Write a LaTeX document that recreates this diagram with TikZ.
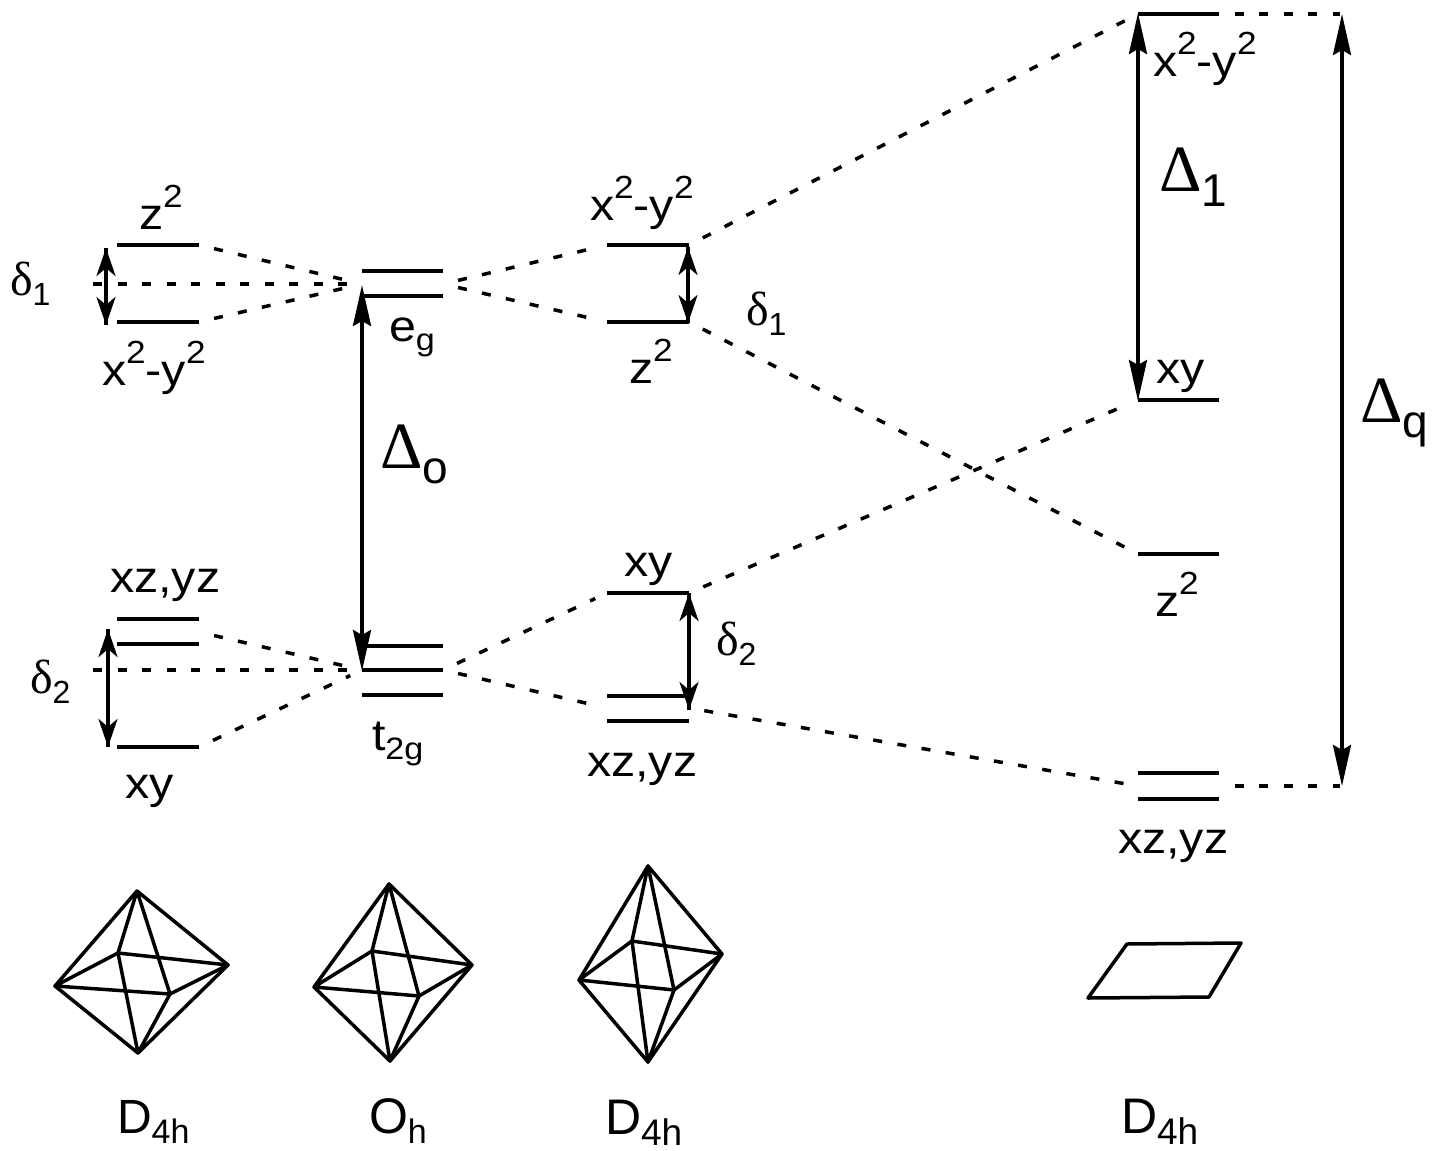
\documentclass[tikz,border=0pt]{standalone}
\usepackage{fontspec}
\setmainfont{Liberation Sans}
\newfontfamily\serifgreek{Liberation Serif}
\usetikzlibrary{arrows.meta}
\newcommand{\labsize}{\fontsize{44}{44}\selectfont}
\newcommand{\up}[1]{\raisebox{22pt}{\fontsize{32}{32}\selectfont #1}}
\newcommand{\dn}[1]{\raisebox{-9pt}{\fontsize{31}{31}\selectfont #1}}
\newcommand{\dnb}[1]{\raisebox{-10pt}[24pt][0pt]{\fontsize{34}{34}\selectfont #1}}
\newcommand{\dnc}[1]{\raisebox{-11pt}[24pt][0pt]{\fontsize{37}{37}\selectfont #1}}
\newcommand{\dlt}[1]{{\serifgreek\fontsize{48}{48}\selectfont δ}\raisebox{-10pt}{\fontsize{32}{32}\selectfont #1}}
\newcommand{\Dlt}[1]{{\serifgreek\fontsize{66}{66}\selectfont Δ}\raisebox{-15pt}{\fontsize{46}{46}\selectfont #1}}
\newcommand{\level}[4]{%
  \coordinate (#1L) at (#2,#4);
  \coordinate (#1R) at (#3,#4);
  \draw[levelline] (#1L) -- (#1R);}
\newcommand{\octa}[7]{%
  \coordinate (#1t) at #2; \coordinate (#1r) at #3; \coordinate (#1b) at #4;
  \coordinate (#1l) at #5; \coordinate (#1k) at #6; \coordinate (#1f) at #7;
  \draw[polyline] (#1l) -- (#1t) -- (#1r) -- (#1b) -- cycle;
  \draw[polyline] (#1l) -- (#1k) -- (#1r) -- (#1f) -- cycle;
  \draw[polyline] (#1t) -- (#1k) -- (#1b) -- (#1f) -- cycle;}
\tikzset{
  x=1pt,y=-1pt,
  levelline/.style={line width=3.5pt},
  polyline/.style={line width=3.5pt,line join=round},
  dashline/.style={line width=3.5pt,dash pattern=on 9pt off 15.5pt},
  gapline/.style={dashline,dash phase=9pt,shorten >=13pt},
  bigarrow/.style={line width=3.5pt,{Stealth[length=41pt,width=18pt,inset=5pt]}-{Stealth[length=41pt,width=18pt,inset=5pt]}},
  smallarrow/.style={line width=3.5pt,{Stealth[open,length=28pt,width=19pt,inset=8pt,line width=3.5pt]}-{Stealth[open,length=28pt,width=19pt,inset=8pt,line width=3.5pt]}},
  shaft/.style={line width=3.5pt},
  lab/.style={anchor=base west,inner sep=0pt,outer sep=0pt,font=\labsize,transform shape,xscale=1.1},
  plain/.style={anchor=base west,inner sep=0pt,outer sep=0pt,font=\labsize},
}
\begin{document}
\begin{tikzpicture}
\useasboundingbox (0,0) rectangle (1441,1151);
% levels
\level{az}{117}{199}{245}
\level{ax}{117}{199}{322}
\level{ap}{117}{199}{619}
\level{aq}{117}{199}{644}
\level{ay}{117}{199}{747}
\level{bu}{362}{443}{271}
\level{bv}{362}{443}{296}
\level{bp}{362}{443}{646}
\level{bq}{362}{443}{670}
\level{br}{362}{443}{695}
\level{cx}{607}{689}{245}
\level{cz}{607}{689}{322}
\level{cy}{607}{689}{593}
\level{cp}{607}{689}{696}
\level{cq}{607}{689}{721}
\level{dx}{1138}{1219}{14}
\level{dy}{1138}{1219}{400}
\level{dz}{1138}{1219}{554}
\level{dp}{1138}{1219}{773}
\level{dq}{1138}{1219}{799}
% helper coordinates
\coordinate (eL) at (362,284);
\coordinate (eR) at (443,284);
\coordinate (tL) at (362,670);
\coordinate (tR) at (443,670);
\coordinate (aeS) at (93,284);
\coordinate (aeE) at (347,284);
\coordinate (atS) at (93,670);
\coordinate (atE) at (347,670);
\coordinate (amid) at (199,632);
\coordinate (cmid) at (607,708);
\coordinate (cmidR) at (689,708);
\coordinate (dmid) at (1138,786);
\coordinate (dmidR) at (1219,786);
\coordinate (qT) at (1342,14);
\coordinate (qB) at (1342,786);
\coordinate (qTd) at (1353,14);
\coordinate (qBd) at (1353,786);
% dashed correlation lines
\draw[gapline] (azR) -- (eL);
\draw[dashline] (aeS) -- (aeE);
\draw[gapline] (axR) -- (eL);
\draw[gapline] (eR) -- (cxL);
\draw[gapline] (eR) -- (czL);
\draw[gapline] (cxR) -- (dxL);
\draw[gapline] (czR) -- (dzL);
\draw[gapline] (amid) -- (tL);
\draw[dashline] (atS) -- (atE);
\draw[gapline] (ayR) -- (tL);
\draw[gapline] (tR) -- (cyL);
\draw[gapline] (tR) -- (cmid);
\draw[gapline] (cyR) -- (dyL);
\draw[gapline] (cmidR) -- (dmid);
\draw[gapline] (dxR) -- (qTd);
\draw[gapline] (dmidR) -- (qBd);
% big arrows
\coordinate (oT) at (362,285);
\coordinate (oB) at (362,671);
\coordinate (uT) at (1138,13);
\coordinate (uB) at (1138,401);
\draw[bigarrow] (oT) -- (oB);
\draw[bigarrow] (uT) -- (uB);
\draw[bigarrow] (qT) -- (qB);
% small arrows
\coordinate (s1T) at (106,248);
\coordinate (s1B) at (106,325);
\coordinate (s2T) at (108,629);
\coordinate (s2B) at (108,747);
\coordinate (s3T) at (688,247);
\coordinate (s3B) at (688,323);
\coordinate (s4T) at (689,593);
\coordinate (s4B) at (689,710);
\foreach \p/\q in {s1T/s1B,s2T/s2B,s3T/s3B,s4T/s4B}{
  \draw[shaft] (\p) -- (\q);
  \draw[smallarrow] (\p) -- (\q);
}
% polyhedra
\octa{A}{(137,891)}{(228,965)}{(138,1053)}{(55,986)}{(118,953)}{(170,994)}
\octa{B}{(389,884)}{(472,965)}{(390,1061)}{(314,987)}{(372,951)}{(419,996)}
\octa{C}{(648,866)}{(722,954)}{(648,1062)}{(579,980)}{(632,941)}{(674,990)}
\coordinate (Pa) at (1127,944);
\coordinate (Pb) at (1241,943);
\coordinate (Pc) at (1209,997);
\coordinate (Pd) at (1088,998);
\draw[polyline] (Pa) -- (Pb) -- (Pc) -- (Pd) -- cycle;
% labels
\node[lab] (l1) at (139,229) {z\up{2}};
\node[lab] (l2) at (102,385) {x\up{2}-y\up{2}};
\node[plain] (l3) at (10,295) {\dlt{1}};
\node[lab] (l4) at (389,341) {e\dn{g}};
\node[plain] (l5) at (380,468) {\Dlt{o}};
\node[lab] (l6) at (590,220) {x\up{2}-y\up{2}};
\node[lab] (l7) at (629,383) {z\up{2}};
\node[plain] (l8) at (746,325) {\dlt{1}};
\node[lab] (l9) at (1153,76) {x\up{2}-y\up{2}};
\node[plain] (l10) at (1159,191) {\Dlt{1}};
\node[lab] (l11) at (1156,383) {xy};
\node[lab] (l12) at (1155,616) {z\up{2}};
\node[plain] (l13) at (1360,422) {\Dlt{q}};
\node[lab] (l14) at (624,576) {xy};
\node[plain] (l15) at (716,655) {\dlt{2}};
\node[lab] (l16) at (587,776) {xz,yz};
\node[lab] (l17) at (1118,853) {xz,yz};
\node[lab] (l18) at (110,592) {xz,yz};
\node[plain] (l19) at (30,693) {\dlt{2}};
\node[lab] (l20) at (125,798) {xy};
\node[lab] (l21) at (372,750) {t\dn{2g}};
\node[plain] (l22) at (117,1133) {\fontsize{48}{48}\selectfont D\dnb{4h}};
\node[plain] (l23) at (369,1133) {\fontsize{50}{50}\selectfont O\dnb{h}};
\node[plain] (l24) at (605,1134) {\fontsize{50}{50}\selectfont D\dnc{4h}};
\node[plain] (l25) at (1121,1133) {\fontsize{50}{50}\selectfont D\dnc{4h}};
\end{tikzpicture}
\end{document}
